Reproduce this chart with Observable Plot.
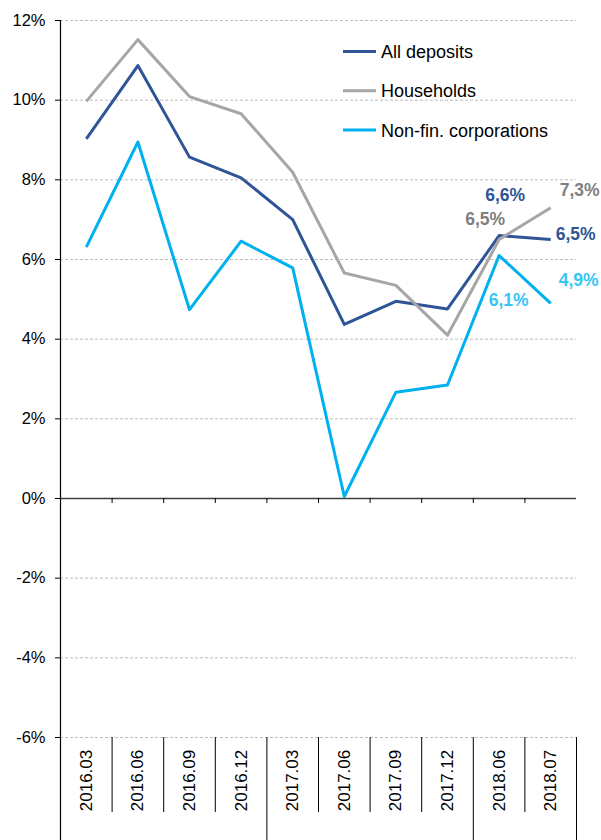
<!DOCTYPE html>
<html>
<head>
<meta charset="utf-8">
<script src="https://cdn.jsdelivr.net/npm/d3@7"></script>
<script src="https://cdn.jsdelivr.net/npm/@observablehq/plot@0.6"></script>
<style>
  body { margin: 0; background: #fff; }
  svg { display: block; }
</style>
</head>
<body>
<div id="chart"></div>
<script>
// ---- data ----
const categories = ["2016.03","2016.06","2016.09","2016.12","2017.03","2017.06","2017.09","2017.12","2018.06","2018.07"];
const allDeposits = [9.03, 10.87, 8.57, 8.05, 7.0, 4.37, 4.95, 4.76, 6.6, 6.5];
const households  = [9.97, 11.52, 10.09, 9.66, 8.19, 5.66, 5.35, 4.1, 6.5, 7.3];
const nonFinCorp  = [6.31, 8.95, 4.74, 6.46, 5.79, 0.05, 2.67, 2.85, 6.1, 4.9];
const yTicks = [-6, -4, -2, 0, 2, 4, 6, 8, 10, 12];
const seriesNames = ["All deposits", "Households", "Non-fin. corporations"];
const seriesValues = [allDeposits, households, nonFinCorp];
const seriesColors = ["#2f5597", "#a6a6a6", "#00b0f0"];
const labelColors = ["#2f5597", "#7f7f7f", "#36c6f6"];
// labelled points: series index, category index
const labelled = [
  {s: 0, i: 8}, {s: 1, i: 8}, {s: 2, i: 8},
  {s: 1, i: 9}, {s: 0, i: 9}, {s: 2, i: 9}
];
// ---- layout (style only) ----
const labelOffsets = [[6, -40], [-14, -20], [9.5, 45], [29, -17], [25, -5], [28, -23]];
const font = "'Liberation Sans', Arial, Helvetica, sans-serif";

const rows = seriesNames.map((name, s) =>
  categories.map((c, i) => ({series: name, s, i, x: i + 0.5, v: seriesValues[s][i]})));

const fmt = v => d3.format(".1f")(v).replace(".", ",") + "%";

// category boundaries
const boundaries = d3.range(0, categories.length + 1);
const yearOf = c => c.slice(0, 4);
const isLong = b => b === 0 || b === categories.length || yearOf(categories[b]) !== yearOf(categories[b - 1]);
const shortB = boundaries.filter(b => !isLong(b));
const longB = boundaries.filter(b => isLong(b) && b !== 0);
const innerB = boundaries.filter(b => b > 0 && b < categories.length);

function legendMark(index, scales, values, dimensions) {
  const g = d3.create("svg:g");
  const x0 = 343, y0 = 51.5, step = 39.3, len = 33;
  seriesNames.forEach((name, k) => {
    const y = y0 + k * step;
    g.append("line").attr("x1", x0).attr("x2", x0 + len).attr("y1", y).attr("y2", y)
      .attr("stroke", seriesColors[k]).attr("stroke-width", 3);
    g.append("text").attr("x", x0 + len + 5).attr("y", y).attr("dy", "0.36em")
      .attr("text-anchor", "start")
      .attr("font-size", 18).attr("font-family", font).attr("fill", "#000").text(name);
  });
  return g.node();
}

const chart = Plot.plot({
  width: 601,
  height: 840,
  marginTop: 20,
  marginBottom: 103,
  marginLeft: 60,
  marginRight: 25,
  style: {fontFamily: font, fontSize: "16.5px", color: "#000", background: "#fff"},
  x: {domain: [0, categories.length], axis: null},
  y: {domain: [-6, 12], ticks: yTicks, tickFormat: d => `${d}%`, tickSize: 5, tickPadding: 10, label: null},
  marks: [
    // gridlines
    Plot.ruleY(yTicks.filter(d => d !== 0), {y: d => d, stroke: "#bdbdbd", strokeDasharray: "3,2", strokeWidth: 1}),
    // zero line
    Plot.ruleY([0], {y: d => d, stroke: "#404040", strokeWidth: 1.5}),
    // ticks on zero line
    Plot.ruleX(innerB, {x: d => d, y1: () => 0, y2: () => 0, insetBottom: -5, stroke: "#000", strokeWidth: 1}),
    // y axis line extended down through label area
    Plot.ruleX([0], {x: d => d, insetBottom: -103, stroke: "#000", strokeWidth: 1.2}),
    // category separators
    Plot.ruleX(shortB, {x: d => d, y1: () => -6, y2: () => -6, insetBottom: -75, stroke: "#000", strokeWidth: 1}),
    Plot.ruleX(longB, {x: d => d, y1: () => -6, y2: () => -6, insetBottom: -103, stroke: "#000", strokeWidth: 1}),
    // category labels
    Plot.text(categories, {x: (d, i) => i + 0.5, y: () => -6, text: d => d, rotate: -90, dy: 43,
      textAnchor: "middle", lineAnchor: "middle", fontSize: 17, fill: "#000"}),
    // series lines
    ...rows.map((r, s) => Plot.line(r, {x: "x", y: "v", stroke: seriesColors[s], strokeWidth: 3,
      strokeLinejoin: "round", strokeLinecap: "butt"})),
    // value labels
    ...labelled.map((p, k) => Plot.text([rows[p.s][p.i]], {x: "x", y: "v", text: d => fmt(d.v),
      dx: labelOffsets[k][0], dy: labelOffsets[k][1], fill: labelColors[p.s],
      fontWeight: "bold", fontSize: 17.5, textAnchor: "middle", lineAnchor: "middle"})),
    legendMark
  ]
});
document.getElementById("chart").appendChild(chart);
</script>
</body>
</html>
